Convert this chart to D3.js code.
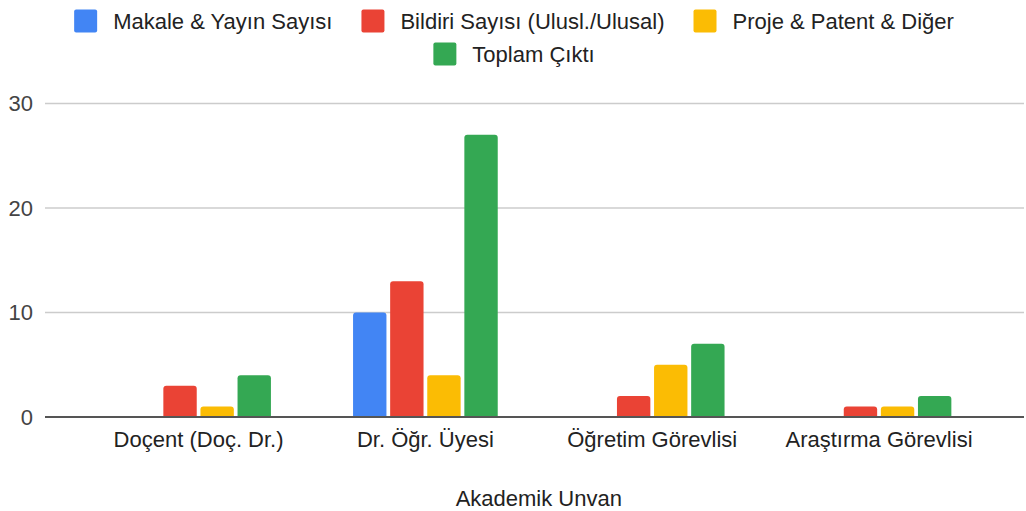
<!DOCTYPE html>
<html>
<head>
<meta charset="utf-8">
<script src="https://cdn.jsdelivr.net/npm/d3@7"></script>
<style>
  body { margin: 0; background: #fff; }
  text { font-family: Arial, "Liberation Sans", sans-serif; fill: #222; }
</style>
</head>
<body>
<svg id="chart" width="1026" height="511"></svg>
<script>
const categories = ["Doçent (Doç. Dr.)", "Dr. Öğr. Üyesi", "Öğretim Görevlisi", "Araştırma Görevlisi"];
const seriesNames = ["Makale & Yayın Sayısı", "Bildiri Sayısı (Ulusl./Ulusal)", "Proje & Patent & Diğer", "Toplam Çıktı"];
const makale = [0, 10, 0, 0];
const bildiri = [3, 13, 2, 1];
const proje = [1, 4, 5, 1];
const toplam = [4, 27, 7, 2];
const yTicks = [0, 10, 20, 30];
const colors = ["#4285f4", "#ea4335", "#fbbc04", "#34a853"];
const xTitle = "Akademik Unvan";

const seriesValues = [makale, bildiri, proje, toplam];
const rows = categories.map((c, i) => ({
    cat: c,
    vals: seriesNames.map((s, j) => ({key: s, value: seriesValues[j][i], color: colors[j]}))
}));

const svg = d3.select("#chart");
const FONT = 22;

const y = d3.scaleLinear().domain([0, 30]).range([417, 103.5]);
const x0 = d3.scaleBand().domain(categories).range([85.2, 992.4])
    .paddingInner(0.3457).paddingOuter(0.1728);
const x1 = d3.scaleBand().domain(seriesNames).range([0, x0.bandwidth()])
    .paddingInner(0.1).paddingOuter(0.05);

// gridlines
svg.append("g").selectAll("line")
    .data(yTicks.filter(t => t > 0))
    .join("line")
    .attr("x1", 45).attr("x2", 1024)
    .attr("y1", d => y(d)).attr("y2", d => y(d))
    .attr("stroke", "#cccccc")
    .attr("stroke-width", 1.5);

// y labels
svg.append("g").selectAll("text")
    .data(yTicks)
    .join("text")
    .attr("x", 33)
    .attr("y", d => y(d))
    .attr("dy", "0.35em")
    .attr("text-anchor", "end")
    .style("font-size", FONT + "px")
    .style("fill", "#444")
    .text(d => d);

// bars with rounded tops
function barPath(x, w, top, bottom, r) {
    r = Math.min(r, (bottom - top), w / 2);
    return "M" + x + "," + bottom +
        "V" + (top + r) +
        "Q" + x + "," + top + " " + (x + r) + "," + top +
        "H" + (x + w - r) +
        "Q" + (x + w) + "," + top + " " + (x + w) + "," + (top + r) +
        "V" + bottom + "Z";
}

svg.append("g").selectAll("g")
    .data(rows)
    .join("g")
    .attr("transform", d => "translate(" + x0(d.cat) + ",0)")
    .selectAll("path")
    .data(d => d.vals.filter(v => v.value > 0))
    .join("path")
    .attr("d", d => barPath(x1(d.key), x1.bandwidth(), y(d.value), y(0), 3))
    .attr("fill", d => d.color);

// baseline
svg.append("line")
    .attr("x1", 45).attr("x2", 1024)
    .attr("y1", y(0)).attr("y2", y(0))
    .attr("stroke", "#555")
    .attr("stroke-width", 2);

// x labels
svg.append("g").selectAll("text")
    .data(categories)
    .join("text")
    .attr("x", d => x0(d) + x0.bandwidth() / 2)
    .attr("y", 447)
    .attr("text-anchor", "middle")
    .style("font-size", FONT + "px")
    .text(d => d);

// x title
svg.append("text")
    .attr("x", (85.2 + 992.4) / 2)
    .attr("y", 506)
    .attr("text-anchor", "middle")
    .style("font-size", FONT + "px")
    .text(xTitle);

// legend
const legendRows = [[0, 1, 2], [3]];
const legendY = [21, 54];
const SW = 23, TGAP = 16, IGAP = 29;
const legend = svg.append("g");
legendRows.forEach((idxs, r) => {
    const g = legend.append("g");
    let cx = 0;
    idxs.forEach((i, k) => {
        if (k > 0) cx += IGAP;
        g.append("rect")
            .attr("x", cx).attr("y", legendY[r] - SW / 2)
            .attr("width", SW).attr("height", SW)
            .attr("rx", 2)
            .attr("fill", colors[i]);
        cx += SW + TGAP;
        const t = g.append("text")
            .attr("x", cx).attr("y", legendY[r])
            .attr("dy", "0.35em")
            .style("font-size", FONT + "px")
            .text(seriesNames[i]);
        cx += t.node().getComputedTextLength();
    });
    g.attr("transform", "translate(" + (514 - cx / 2) + ",0)");
});
</script>
</body>
</html>
